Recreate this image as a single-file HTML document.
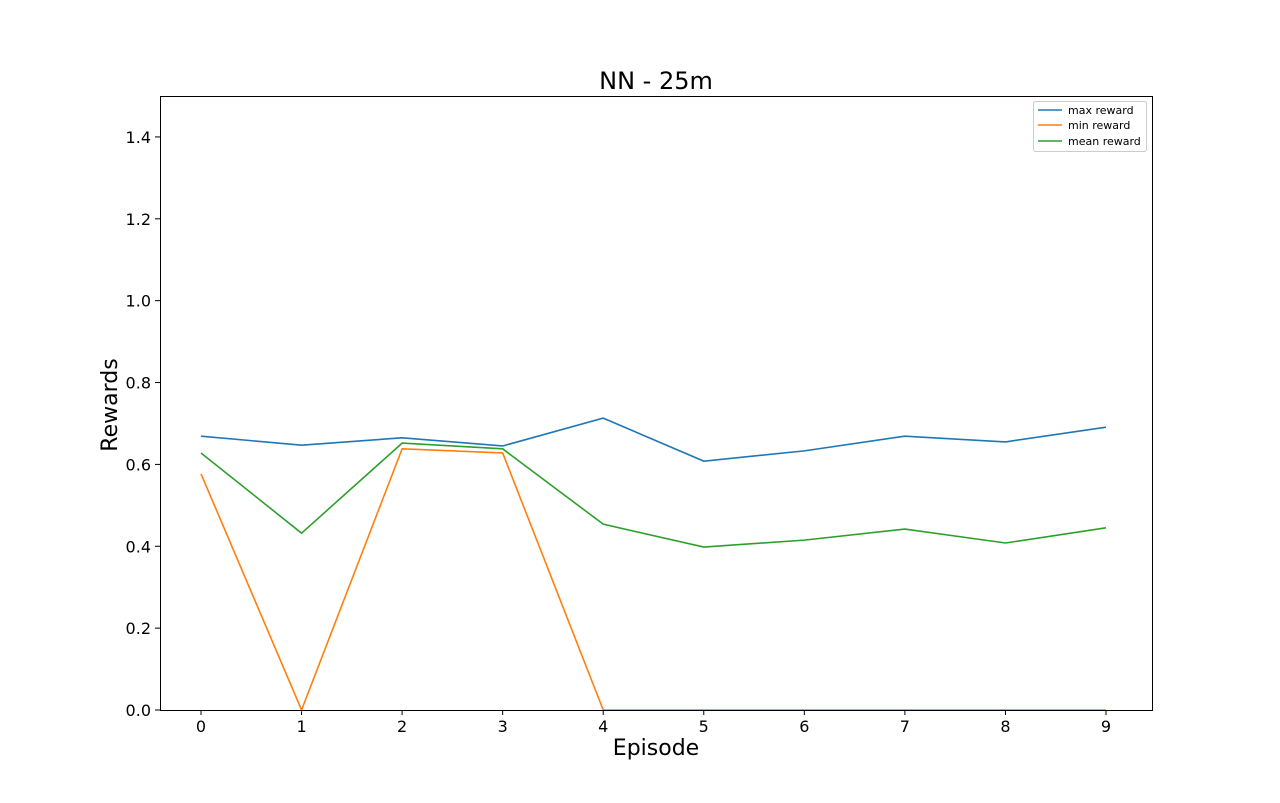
<!DOCTYPE html>
<html><head><meta charset="utf-8"><style>
body{margin:0;background:#fff;}
svg text{font-family:"DejaVu Sans","Liberation Sans",sans-serif;}
</style></head><body>
<svg id="chart" width="1280" height="798" xmlns="http://www.w3.org/2000/svg">
<rect width="1280" height="798" fill="#fff"/>
<text x="656" y="89" font-size="24" text-anchor="middle">NN - 25m</text>
<g id="ticks"></g>
<g id="series"></g>
<rect x="160.5" y="96.5" width="992" height="614" fill="none" stroke="#000" stroke-width="1"/>
<text x="656" y="755" font-size="22" text-anchor="middle">Episode</text>
<text transform="translate(117,405) rotate(-90)" font-size="22" text-anchor="middle">Rewards</text>
<g>
<rect x="1033.5" y="101.5" width="113" height="50" rx="2" fill="#fff" stroke="#ccc"/>
<line x1="1038" y1="110" x2="1062" y2="110" stroke="#1f77b4" stroke-width="1.5"/>
<text x="1068" y="114" font-size="11">max reward</text>
<line x1="1038" y1="125" x2="1062" y2="125" stroke="#ff7f0e" stroke-width="1.5"/>
<text x="1068" y="129" font-size="11">min reward</text>
<line x1="1038" y1="141" x2="1062" y2="141" stroke="#2ca02c" stroke-width="1.5"/>
<text x="1068" y="145" font-size="11">mean reward</text>
</g>
</svg>
<script>
const episodes=[0,1,2,3,4,5,6,7,8,9];
const maxReward=[0.669,0.647,0.665,0.645,0.713,0.608,0.633,0.669,0.655,0.691];
const minReward=[0.577,0,0.638,0.628,0,0,0,0,0,0];
const meanReward=[0.628,0.432,0.652,0.638,0.454,0.398,0.415,0.442,0.408,0.445];
const yTicks=[0,0.2,0.4,0.6,0.8,1.0,1.2,1.4];
const yTickLabels=["0.0","0.2","0.4","0.6","0.8","1.0","1.2","1.4"];
const NS="http://www.w3.org/2000/svg";
function xs(v){return 201+v*(1106-201)/9;}
function ys(v){return 710-v*(614/1.5);}
const tg=document.getElementById('ticks');
episodes.forEach(e=>{
  const l=document.createElementNS(NS,'line');
  l.setAttribute('x1',xs(e));l.setAttribute('x2',xs(e));l.setAttribute('y1',710);l.setAttribute('y2',715);l.setAttribute('stroke','#000');
  
  
  tg.appendChild(l);
  const t=document.createElementNS(NS,'text');
  t.setAttribute('x',xs(e));t.setAttribute('y',732);t.setAttribute('font-size','16');t.setAttribute('text-anchor','middle');t.textContent=e;
  
  
  tg.appendChild(t);
});
yTicks.forEach((v,i)=>{
  const l=document.createElementNS(NS,'line');
  l.setAttribute('x1',155);l.setAttribute('x2',160);l.setAttribute('y1',ys(v));l.setAttribute('y2',ys(v));l.setAttribute('stroke','#000');
  
  
  tg.appendChild(l);
  const t=document.createElementNS(NS,'text');
  t.setAttribute('x',151);t.setAttribute('y',ys(v)+6);t.setAttribute('font-size','16');t.setAttribute('text-anchor','end');t.textContent=yTickLabels[i];
  
  
  tg.appendChild(t);
});
const sg=document.getElementById('series');
[[maxReward,'#1f77b4','max-reward-line'],[minReward,'#ff7f0e','min-reward-line'],[meanReward,'#2ca02c','mean-reward-line']].forEach(([d,c,n])=>{
  const p=document.createElementNS(NS,'polyline');
  p.setAttribute('points',d.map((v,i)=>xs(episodes[i])+','+ys(v)).join(' '));
  p.setAttribute('fill','none');p.setAttribute('stroke',c);p.setAttribute('stroke-width','1.6');
  
  
  sg.appendChild(p);
});
</script>
</body></html>
